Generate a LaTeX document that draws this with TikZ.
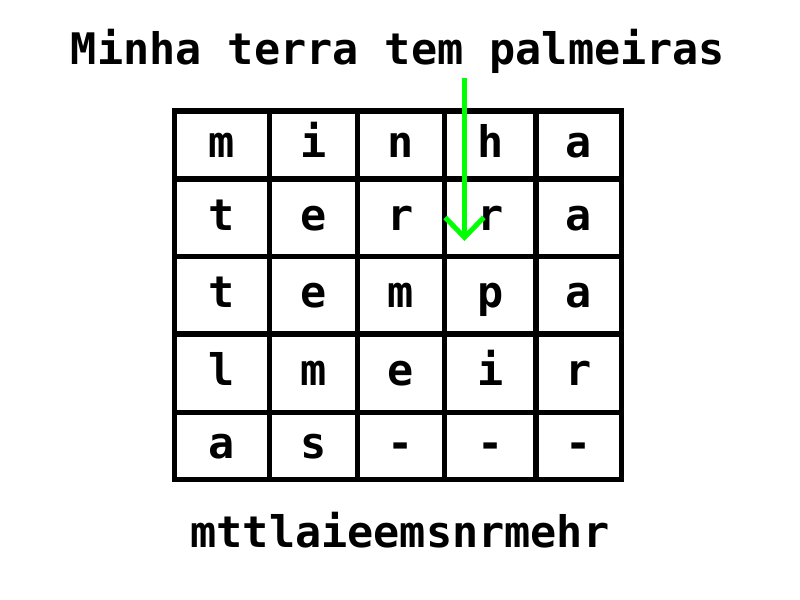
\documentclass[tikz,border=0pt]{standalone}
\usepackage{fontspec}
\setmonofont{DejaVu Sans Mono}
\usetikzlibrary{arrows.meta}
\definecolor{arrowgreen}{HTML}{00FF00}
\tikzset{
  gridline/.style={line width=4pt, line cap=rect},
  letter/.style={font=\ttfamily\bfseries\fontsize{32.6}{38}\selectfont, anchor=base, inner sep=0pt},
  greenarrow/.style={draw=arrowgreen, line width=3.75pt, -{Straight Barb[length=15pt, width=29pt, line width=3.75pt]}}
}
\begin{document}
\begin{tikzpicture}[x=0.75pt, y=-0.75pt]
\useasboundingbox[fill=white] (0,0) rectangle (800,600);
% title and result
\node[letter] (title) at (398,64) {Minha terra tem palmeiras};
\node[letter] (result) at (400,547) {mttlaieemsnrmehr};
% grid
\draw[gridline] (174.5,111) rectangle (621.7,479.7);
\foreach \x in {269.5,357.5,444.7,536} \draw[gridline] (\x,111) -- (\x,479.7);
\foreach \y in {179,256.5,334,412.5} \draw[gridline] (174.5,\y) -- (621.7,\y);
% letters
\def\colx{{222,313.5,401,490.3,578.8}}
\def\rowy{{145,217.75,295.25,373.25,446.1}}
\foreach \r/\row in {0/{m,i,n,h,a},1/{t,e,r,r,a},2/{t,e,m,p,a},3/{l,m,e,i,r},4/{a,s,-,-,-}}{
  \foreach \ch [count=\c from 0] in \row {
    \pgfmathsetmacro{\cx}{\colx[\c]}
    \pgfmathsetmacro{\cy}{\rowy[\r]+12.5}
    \node[letter] (c\r\c) at (\cx,\cy) {\ch};
  }
}
% arrow
\coordinate (astart) at (464.5,78);
\coordinate (aend) at (464.5,241);
\draw[greenarrow] (astart) -- (aend);
\end{tikzpicture}
\end{document}
